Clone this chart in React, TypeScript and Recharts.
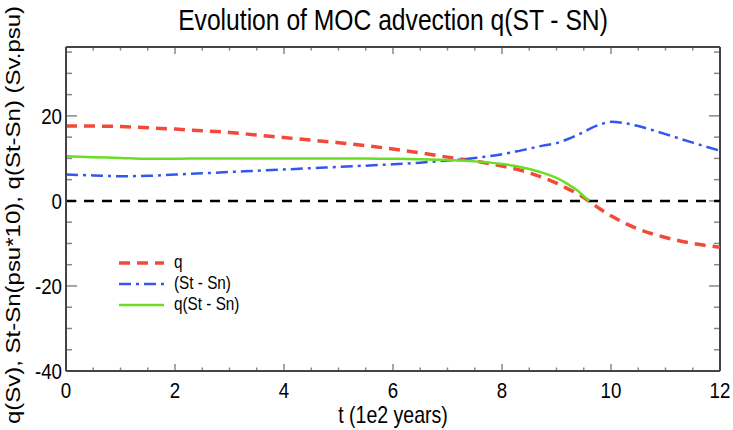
import React from 'react';
import { LineChart, Line, XAxis, YAxis, ReferenceLine, Legend } from 'recharts';

const T = [0, 0.5, 1, 1.5, 2, 2.5, 3, 3.5, 4, 4.5, 5, 5.5, 6, 6.5, 7, 7.5, 8, 8.25, 8.5, 8.75, 9, 9.2, 9.4, 9.5, 9.6, 9.8, 10, 10.25, 10.5, 11, 11.5, 12];
const Q = [17.6, 17.6, 17.5, 17.2, 16.9, 16.5, 16.1, 15.5, 14.9, 14.3, 13.7, 13.0, 12.2, 11.3, 10.3, 9.4, 8.2, 7.5, 6.6, 5.5, 4.2, 2.9, 1.6, 0.8, -0.1, -1.9, -3.5, -5.2, -6.6, -8.6, -10.0, -10.9];
const DS = [6.2, 6.0, 5.8, 5.9, 6.2, 6.5, 6.8, 7.1, 7.4, 7.7, 8.0, 8.3, 8.6, 9.0, 9.5, 10.1, 11.0, 11.6, 12.3, 13.0, 13.6, 14.5, 15.6, 16.2, 16.9, 18.0, 18.6, 18.3, 17.6, 15.7, 13.7, 11.8];
const QDS = [10.5, 10.3, 10.1, 9.9, 9.9, 10.0, 10.0, 10.0, 10.0, 10.0, 10.0, 10.0, 9.9, 9.8, 9.6, 9.3, 8.7, 8.2, 7.5, 6.6, 5.4, 4.0, 2.3, 1.1, 0, null, null, null, null, null, null, null];

const X_MAJOR = [0, 2, 4, 6, 8, 10, 12];
const X_MINOR = [0.5, 1, 1.5, 2.5, 3, 3.5, 4.5, 5, 5.5, 6.5, 7, 7.5, 8.5, 9, 9.5, 10.5, 11, 11.5];
const Y_MAJOR = [-40, -20, 0, 20];
const Y_MINOR = [-35, -30, -25, -15, -10, -5, 5, 10, 15, 25, 30, 35];

const SERIES = [
  { key: 'q', label: 'q', color: '#f24a3a', dash: '11 7', width: 3.5 },
  { key: 'ds', label: '(St - Sn)', color: '#3356f0', dash: '12 5 3 5', width: 2.5 },
  { key: 'qds', label: 'q(St - Sn)', color: '#6ade22', dash: undefined, width: 2.5 },
];

const data = T.map((t, i) => ({ t, q: Q[i], ds: DS[i], qds: QDS[i] }));

const FONT = '"Liberation Sans", Arial, sans-serif';
const SQ = 0.85; // the original text is a bit condensed
const X_DOM = [0, 12];
const Y_DOM = [-40, 36.2];
const PLOT_W = 654;
const PLOT_H = 324;
// tick lengths in px, turned into data units so the ticks can point inwards
const xu = (px: number) => (px * (X_DOM[1] - X_DOM[0])) / PLOT_W;
const yu = (px: number) => (px * (Y_DOM[1] - Y_DOM[0])) / PLOT_H;
const frame = { stroke: '#444', strokeWidth: 2 };
const TICK = '#888';

const SqText = ({ x, y, dy, anchor, size, children }: any) => (
  <text transform={`translate(${x} ${y}) scale(${SQ} 1)`} x={0} y={0} dy={dy} textAnchor={anchor}
    fontSize={size} fontFamily={FONT} fill="#000">
    {children}
  </text>
);

const XTick = (p: any) => <SqText x={p.x} y={p.y} dy="0.72em" anchor="middle" size={22}>{p.payload.value}</SqText>;
const YTick = (p: any) => <SqText x={p.x} y={p.y} dy="0.36em" anchor="end" size={22}>{p.payload.value}</SqText>;

const XLabel = (p: any) => {
  const vb = p.viewBox || { x: 0, y: 0, width: 0, height: 0 };
  return <SqText x={vb.x + vb.width / 2} y={vb.y + vb.height - 7} anchor="middle" size={23}>t (1e2 years)</SqText>;
};

const YLabel = (p: any) => {
  const vb = p.viewBox || { x: 0, y: 0, height: 0 };
  const cx = 13;
  const cy = vb.y + vb.height / 2 + 6;
  return (
    <text transform={`translate(${cx} ${cy}) scale(${SQ} 1) rotate(-90)`} x={0} y={0} textAnchor="middle"
      dominantBaseline="central" fontSize={24} fontFamily={FONT} fill="#000">
      q(Sv), St-Sn(psu*10), q(St-Sn) (Sv.psu)
    </text>
  );
};

const renderLegend = () => (
  <div style={{ fontFamily: FONT, fontSize: 18, color: '#000' }}>
    {SERIES.map((s) => (
      <div key={s.key} style={{ display: 'flex', alignItems: 'center', height: 21 }}>
        <svg width={48} height={8} style={{ marginRight: 8 }}>
          <line x1={1} y1={4} x2={46} y2={4} stroke={s.color} strokeWidth={s.width} strokeDasharray={s.dash} />
        </svg>
        <span style={{ display: 'inline-block', transform: `scaleX(${SQ})`, transformOrigin: 'left center' }}>{s.label}</span>
      </div>
    ))}
  </div>
);

// inward ticks on all four sides of the box
const xTicks = (vals: number[], px: number) =>
  vals.flatMap((v) => [
    <ReferenceLine key={`xb${v}`} xAxisId="x" yAxisId="y" stroke={TICK} strokeWidth={1.5}
      segment={[{ x: v, y: Y_DOM[0] }, { x: v, y: Y_DOM[0] + yu(px) }]} />,
    <ReferenceLine key={`xt${v}`} xAxisId="x" yAxisId="y" stroke={TICK} strokeWidth={1.5}
      segment={[{ x: v, y: Y_DOM[1] }, { x: v, y: Y_DOM[1] - yu(px) }]} />,
  ]);
const yTicks = (vals: number[], px: number) =>
  vals.flatMap((v) => [
    <ReferenceLine key={`yl${v}`} xAxisId="x" yAxisId="y" stroke={TICK} strokeWidth={1.5}
      segment={[{ x: X_DOM[0], y: v }, { x: X_DOM[0] + xu(px), y: v }]} />,
    <ReferenceLine key={`yr${v}`} xAxisId="x" yAxisId="y" stroke={TICK} strokeWidth={1.5}
      segment={[{ x: X_DOM[1], y: v }, { x: X_DOM[1] - xu(px), y: v }]} />,
  ]);

export default function App() {
  return (
    <div style={{ position: 'absolute', left: 0, top: 0, width: 733, height: 430, background: '#fff' }}>
      <div style={{ position: 'absolute', left: 66, width: 654, top: 4, textAlign: 'center', fontFamily: FONT, fontSize: 29,
        color: '#000', transform: `scaleX(${SQ})`, transformOrigin: 'center' }}>
        Evolution of MOC advection q(ST - SN)
      </div>
      <LineChart width={733} height={430} data={data} margin={{ top: 47, right: 13, bottom: 0, left: 0 }}>
        <XAxis xAxisId="x" dataKey="t" type="number" domain={X_DOM} allowDataOverflow ticks={X_MAJOR} orientation="bottom" height={59}
          axisLine={frame} tickLine={false} tickSize={0} tickMargin={11} tick={XTick} interval={0} label={XLabel} />
        <YAxis yAxisId="y" type="number" domain={Y_DOM} allowDataOverflow ticks={Y_MAJOR} orientation="left" width={66}
          axisLine={frame} tickLine={false} tickSize={0} tickMargin={4} tick={YTick} interval={0} label={YLabel} />
        {xTicks(X_MINOR, 3.5)}
        {xTicks(X_MAJOR, 7)}
        {yTicks(Y_MINOR, 6)}
        {yTicks(Y_MAJOR, 11)}
        <ReferenceLine xAxisId="x" yAxisId="y" y={Y_DOM[1]} {...frame} />
        <ReferenceLine xAxisId="x" yAxisId="y" x={X_DOM[1]} {...frame} />
        <ReferenceLine xAxisId="x" yAxisId="y" y={0} stroke="#000" strokeWidth={2.5} strokeDasharray="10 8" />
        {SERIES.map((s) => (
          <Line key={s.key} xAxisId="x" yAxisId="y" dataKey={s.key} name={s.label} type="monotone"
            stroke={s.color} strokeWidth={s.width} strokeDasharray={s.dash} dot={false}
            isAnimationActive={false} connectNulls={false} />
        ))}
        <Legend layout="vertical" align="center" verticalAlign="middle" content={renderLegend}
          wrapperStyle={{ left: 118, top: 252, width: 200, height: 70 }} />
      </LineChart>
    </div>
  );
}
